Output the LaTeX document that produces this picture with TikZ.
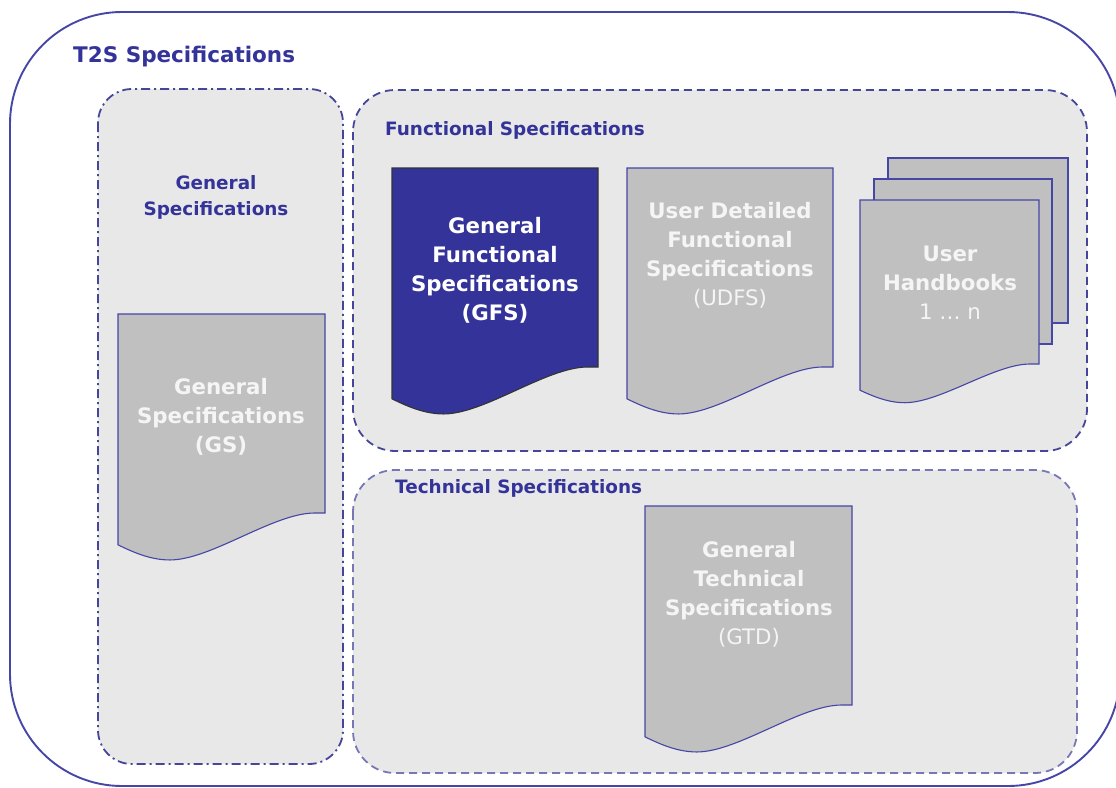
\documentclass[tikz,border=0pt]{standalone}
\usepackage{fontspec}
\setmainfont{DejaVu Sans}
\usepackage{xcolor}
\definecolor{frame}{HTML}{4646A6}
\definecolor{navy}{HTML}{333399}
\definecolor{panelgray}{HTML}{E8E8E8}
\definecolor{docgray}{HTML}{C0C0C0}
\definecolor{dashblue}{HTML}{45459A}
\definecolor{lightdash}{HTML}{7777B5}
\usepackage{tikz}
\usetikzlibrary{calc}

% page outline with wavy bottom, corner + width + height + style
\newcommand{\docpage}[4]{%
  \begin{scope}[shift={(#1)}, x=#2pt, y=-#3pt]
    \path[#4] (0,0) -- (1,0) -- (1,1) -- (0.95,1)
      .. controls (0.75,1) and (0.45,1.236) .. (0.25,1.236)
      .. controls (0.15,1.236) and (0.06,1.19) .. (0,1.16) -- cycle;
  \end{scope}}

\begin{document}
\begin{tikzpicture}[%
    x=1pt, y=-1pt,
    outer frame/.style={draw=frame, line width=1.9pt, rounded corners=112pt},
    panel/.style={fill=panelgray, draw=dashblue, line width=1.8pt, rounded corners=#1},
    panel/.default=42pt,
    dashdot/.style={dash pattern=on 9pt off 4pt on 2pt off 4pt},
    dashline/.style={dash pattern=on 8pt off 5pt},
    paper/.style={fill=docgray, draw=frame, line width=1.1pt},
    darkpaper/.style={fill=navy, draw=black!80, line width=1.1pt},
    heading/.style={font=\fontsize{18.4}{26}\selectfont\bfseries, text=navy, inner sep=0},
    doctext/.style={align=center, text=white!96!black, inner sep=0,
        font=\fontsize{21.3}{29}\selectfont\bfseries},
]

\useasboundingbox (0,0) rectangle (1116,787);
\clip (0,0) rectangle (1116,787);

% outer frame
\draw[outer frame] (10,12) rectangle (1120,786);
\node[heading, anchor=west, font=\fontsize{21.5}{24}\selectfont\bfseries] (t2s) at (73,57) {T2S Specifications};

% panels
\draw[panel=34pt, dashdot] (98,89) rectangle (343,764);
\draw[panel, dashline] (353,90) rectangle (1087,451);
\draw[panel, dashline, draw=lightdash] (353,470) rectangle (1077,773);

\node[heading, align=center] (gs label) at (216,197) {General\\Specifications};
\node[heading, anchor=west] (fs label) at (385,130) {Functional Specifications};
\node[heading, anchor=west] (ts label) at (395,488) {Technical Specifications};

% documents
\coordinate (gs corner) at (118,314);
\docpage{gs corner}{207}{199}{paper}
\node[doctext] (gs) at (221,417) {General\\Specifications\\(GS)};

\coordinate (gfs corner) at (392,168);
\docpage{gfs corner}{206}{199}{darkpaper}
\node[doctext, text=white] (gfs) at (495,270) {General\\Functional\\Specifications\\(GFS)};

\coordinate (udfs corner) at (627,168);
\docpage{udfs corner}{206}{199}{paper}
\node[doctext] (udfs) at (730,255) {User Detailed\\Functional\\Specifications\\\mdseries(UDFS)};

\draw[paper] (888,158) rectangle (1068,323);
\draw[paper] (874,179) rectangle (1052,344);
\coordinate (hb corner) at (860,200);
\docpage{hb corner}{179}{164}{paper}
\node[doctext] (hb) at (950,283) {User\\Handbooks\\\mdseries 1 … n};

\coordinate (gtd corner) at (645,506);
\docpage{gtd corner}{207}{199}{paper}
\node[doctext] (gtd) at (749,594) {General\\Technical\\Specifications\\\mdseries(GTD)};

\end{tikzpicture}
\end{document}
